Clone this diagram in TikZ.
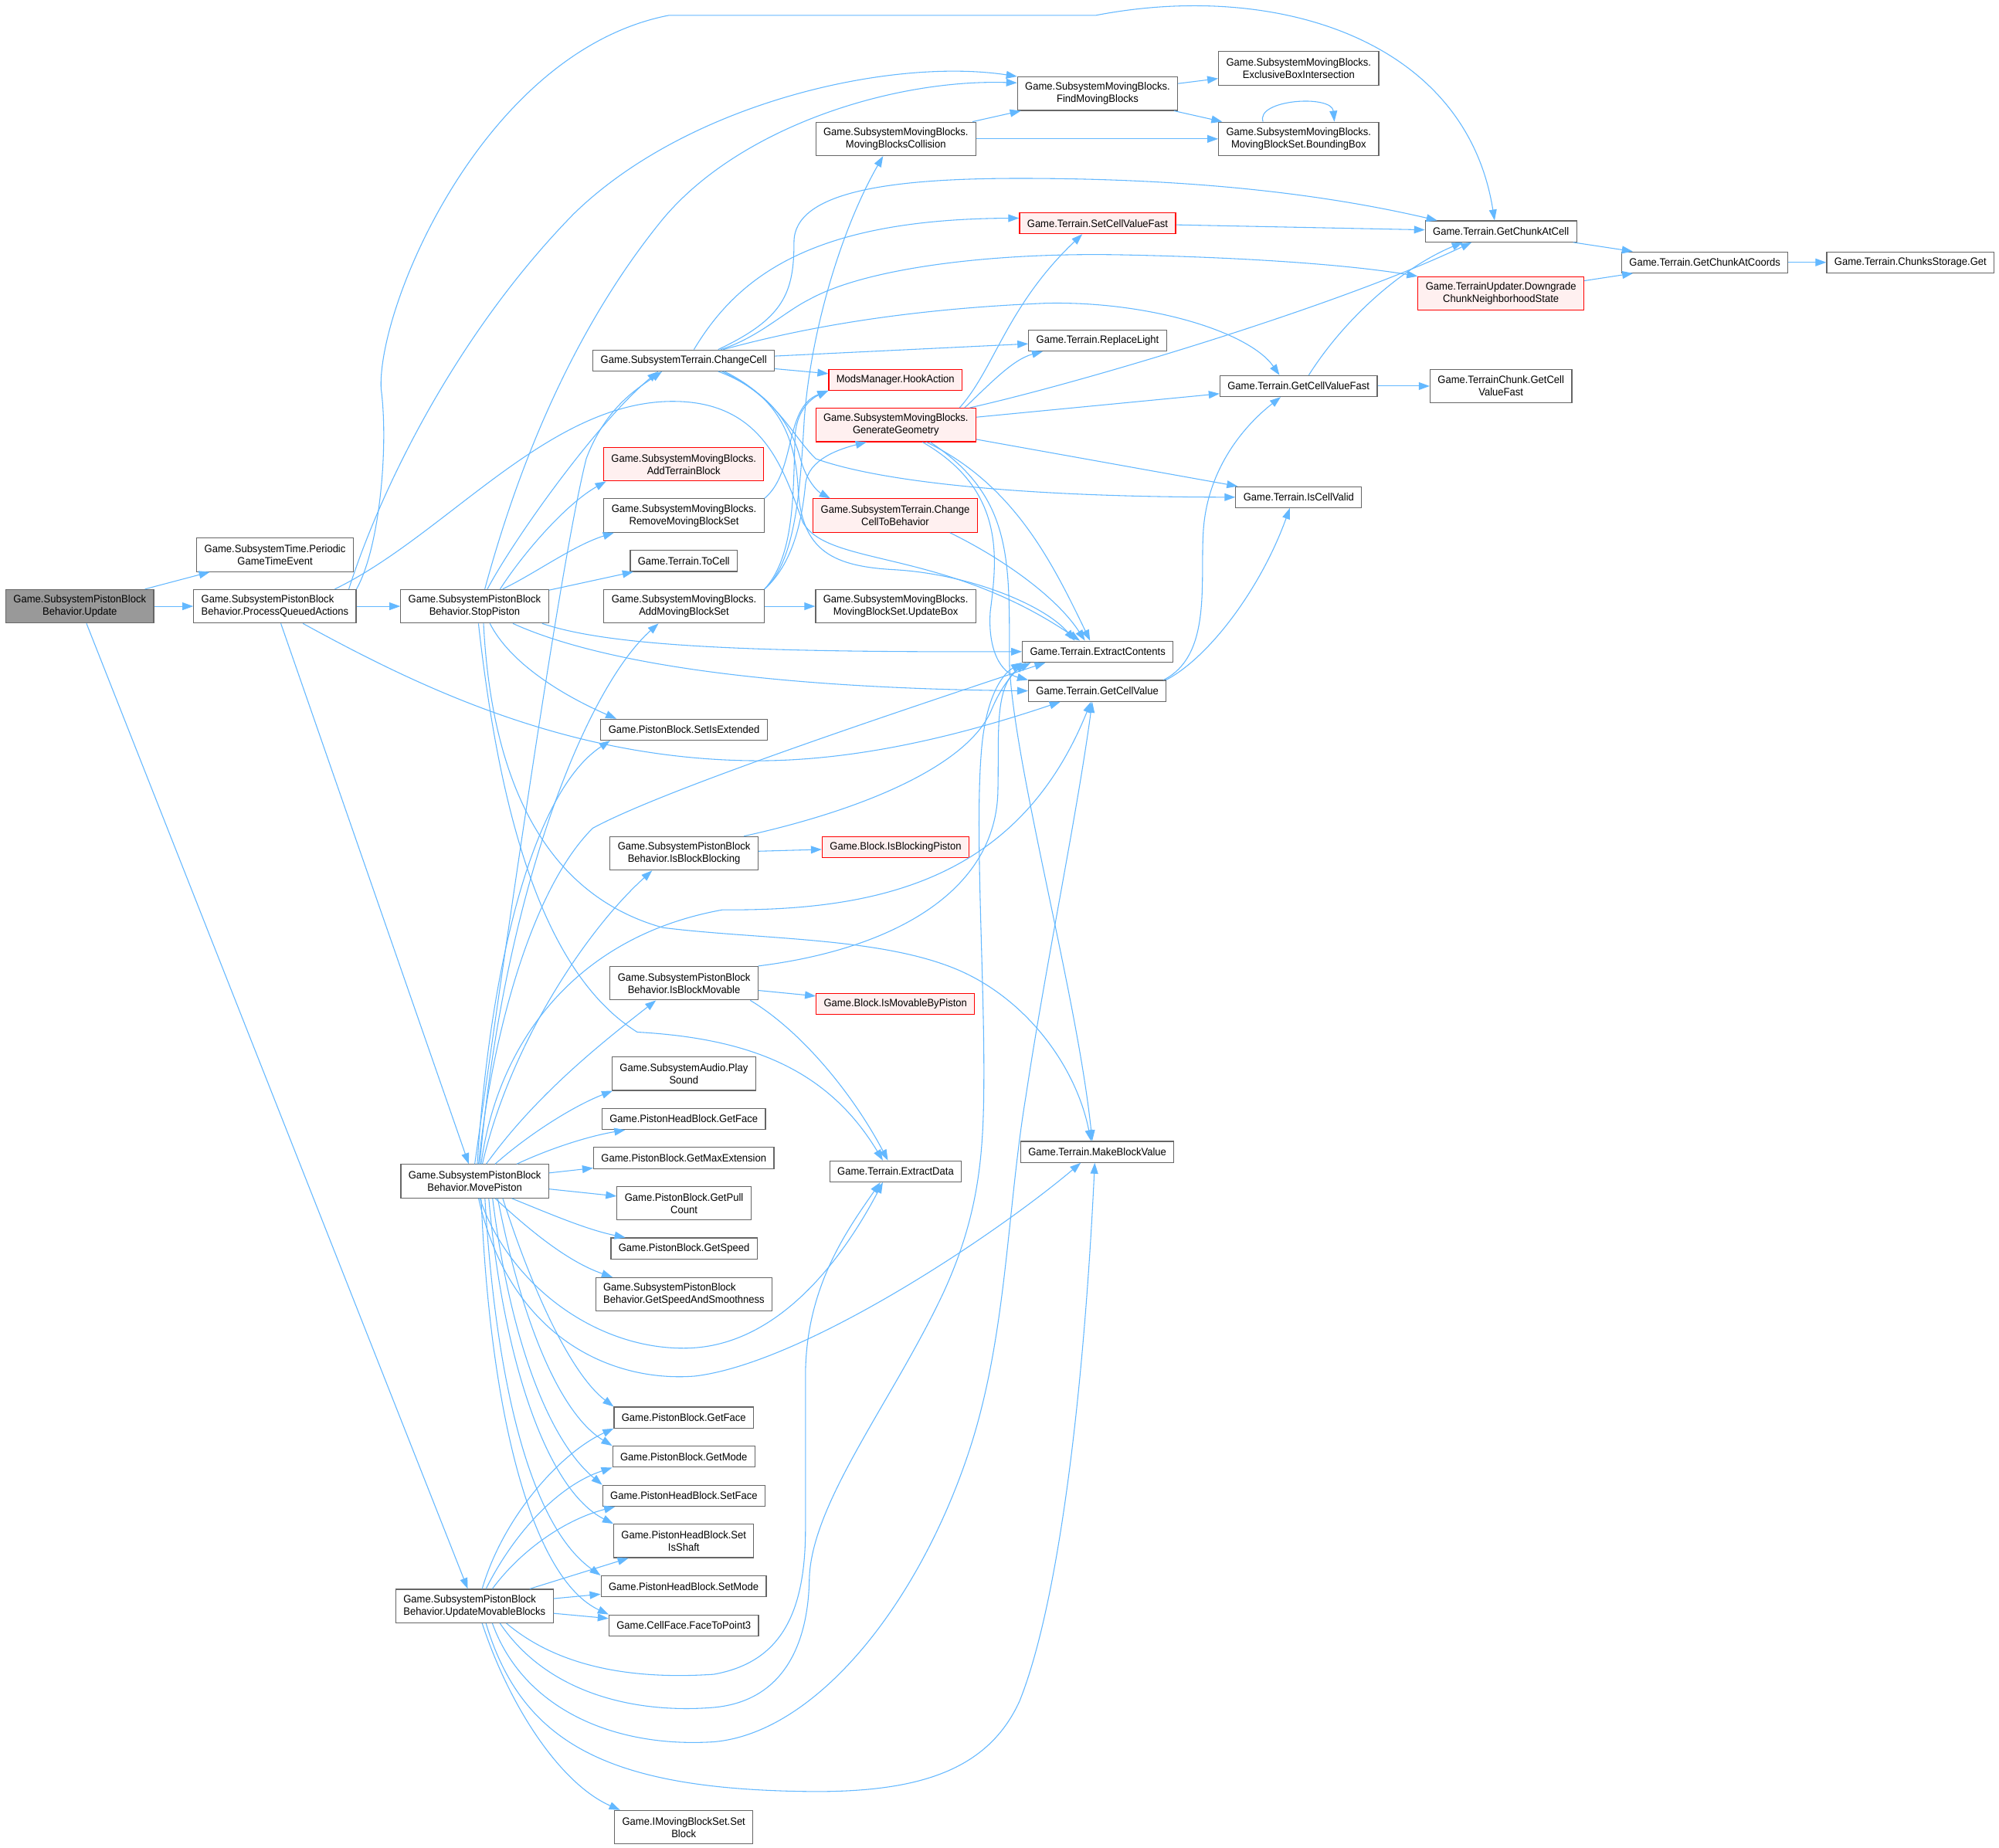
\documentclass[tikz,border=0pt]{standalone}
\usepackage{fontspec}
\setmainfont{Liberation Sans}[FakeStretch=0.94]
\usetikzlibrary{arrows.meta}
\definecolor{edgeblue}{HTML}{63B8FF}
\definecolor{boxgray}{HTML}{666666}
\definecolor{rootgray}{HTML}{999999}
\definecolor{redfill}{HTML}{FFF0F0}

\begin{document}
\begin{tikzpicture}[x=1pt,y=-1pt,
    func/.style={draw=boxgray,fill=white,line width=0.7pt,inner xsep=6pt,inner ysep=0pt,
      minimum height=16.5pt,align=center,font=\fontsize{8.4}{9.7}\selectfont},
    twoline/.style={minimum height=26.3pt},
    funcred/.style={func,draw=red,fill=redfill},
    funcroot/.style={func,fill=rootgray},
    callarrow/.style={color=edgeblue,line width=0.65pt,-{Triangle[length=8.5pt,width=6pt]}}]
        \path[fill=white,use as bounding box] (0,0) rectangle (1568.5,1450.3);
        % Nodi
        \node[funcroot,twoline] (upd) at (62.6,475.8) {Game.SubsystemPistonBlock\\Behavior.Update};
        \node[func,twoline] (periodic) at (215.8,435.4) {Game.SubsystemTime.Periodic\\GameTimeEvent};
        \node[func,twoline,align=left] (procq) at (215.7,475.8) {Game.SubsystemPistonBlock\\Behavior.ProcessQueuedActions};
        \node[func,twoline] (stop) at (372.4,475.8) {Game.SubsystemPistonBlock\\Behavior.StopPiston};
        \node[func,twoline] (move) at (372.5,927) {Game.SubsystemPistonBlock\\Behavior.MovePiston};
        \node[func,twoline,align=left] (updmov) at (372.3,1260.4) {Game.SubsystemPistonBlock\\Behavior.UpdateMovableBlocks};
        \node[func,twoline] (findmov) at (861.2,73.5) {Game.SubsystemMovingBlocks.\\FindMovingBlocks};
        \node[func,twoline] (exclbox) at (1019,53.7) {Game.SubsystemMovingBlocks.\\ExclusiveBoxIntersection};
        \node[func,twoline] (collision) at (702.9,109) {Game.SubsystemMovingBlocks.\\MovingBlocksCollision};
        \node[func,twoline] (bbox) at (1019,109) {Game.SubsystemMovingBlocks.\\MovingBlockSet.BoundingBox};
        \node[funcred] (setfast) at (861.2,175.2) {Game.Terrain.SetCellValueFast};
        \node[func] (chunkcell) at (1177.7,181.6) {Game.Terrain.GetChunkAtCell};
        \node[func] (chunkcoords) at (1337.7,205.9) {Game.Terrain.GetChunkAtCoords};
        \node[func] (storage) at (1499,205.9) {Game.Terrain.ChunksStorage.Get};
        \node[funcred,twoline] (downgrade) at (1177.7,230.3) {Game.TerrainUpdater.Downgrade\\ChunkNeighborhoodState};
        \node[func] (change) at (536.5,282.9) {Game.SubsystemTerrain.ChangeCell};
        \node[func] (light) at (861.2,267.2) {Game.Terrain.ReplaceLight};
        \node[funcred] (hook) at (702.6,298) {ModsManager.HookAction};
        \node[funcred,twoline] (geometry) at (702.9,333.5) {Game.SubsystemMovingBlocks.\\GenerateGeometry};
        \node[func] (getfast) at (1018.9,303) {Game.Terrain.GetCellValueFast};
        \node[func,twoline] (chunkfast) at (1177.7,303) {Game.TerrainChunk.GetCell\\ValueFast};
        \node[func] (valid) at (1019,390.2) {Game.Terrain.IsCellValid};
        \node[funcred,twoline] (addterrain) at (536.5,364.3) {Game.SubsystemMovingBlocks.\\AddTerrainBlock};
        \node[func,twoline] (removeset) at (536.7,404.6) {Game.SubsystemMovingBlocks.\\RemoveMovingBlockSet};
        \node[funcred,twoline] (tobehavior) at (702.4,404.6) {Game.SubsystemTerrain.Change\\CellToBehavior};
        \node[func] (tocell) at (536.5,440.2) {Game.Terrain.ToCell};
        \node[func,twoline] (addset) at (536.7,475.8) {Game.SubsystemMovingBlocks.\\AddMovingBlockSet};
        \node[func,twoline] (updbox) at (702.8,475.8) {Game.SubsystemMovingBlocks.\\MovingBlockSet.UpdateBox};
        \node[func] (contents) at (861.3,511.4) {Game.Terrain.ExtractContents};
        \node[func] (getvalue) at (861,542.2) {Game.Terrain.GetCellValue};
        \node[func] (extended) at (536.7,572.7) {Game.PistonBlock.SetIsExtended};
        \node[func,twoline] (blocking) at (536.7,669.7) {Game.SubsystemPistonBlock\\Behavior.IsBlockBlocking};
        \node[funcred] (blockpiston) at (702.7,665) {Game.Block.IsBlockingPiston};
        \node[func,twoline] (movable) at (536.7,771.6) {Game.SubsystemPistonBlock\\Behavior.IsBlockMovable};
        \node[funcred] (movpiston) at (702.6,787.8) {Game.Block.IsMovableByPiston};
        \node[func,twoline] (sound) at (536.6,842.6) {Game.SubsystemAudio.Play\\Sound};
        \node[func] (headface) at (536.5,878.2) {Game.PistonHeadBlock.GetFace};
        \node[func] (maxext) at (536.5,908.8) {Game.PistonBlock.GetMaxExtension};
        \node[func] (data) at (702.7,919.3) {Game.Terrain.ExtractData};
        \node[func] (makevalue) at (861,904) {Game.Terrain.MakeBlockValue};
        \node[func,twoline] (pull) at (536.7,944.3) {Game.PistonBlock.GetPull\\Count};
        \node[func] (speed) at (536.7,979.8) {Game.PistonBlock.GetSpeed};
        \node[func,twoline,align=left] (smooth) at (536.6,1015.8) {Game.SubsystemPistonBlock\\Behavior.GetSpeedAndSmoothness};
        \node[func] (getface) at (536.5,1112.5) {Game.PistonBlock.GetFace};
        \node[func] (getmode) at (536.5,1143.2) {Game.PistonBlock.GetMode};
        \node[func] (setface) at (536.6,1173.9) {Game.PistonHeadBlock.SetFace};
        \node[func,twoline] (shaft) at (536.5,1209.3) {Game.PistonHeadBlock.Set\\IsShaft};
        \node[func] (setmode) at (536.4,1245) {Game.PistonHeadBlock.SetMode};
        \node[func] (topoint) at (536.5,1275.6) {Game.CellFace.FaceToPoint3};
        \node[func,twoline] (setblock) at (536.5,1434) {Game.IMovingBlockSet.Set\\Block};
        % Archi diritti
        \foreach \a/\b in {upd/periodic,upd/procq,upd/updmov,procq/stop,procq/move,stop/tocell,
            change/light,change/hook,geometry/getfast,geometry/valid,addset/updbox,
            blocking/blockpiston,movable/movpiston,move/maxext,move/pull,updmov/shaft,
            updmov/setmode,updmov/topoint,setfast/chunkcell,chunkcell/chunkcoords,
            downgrade/chunkcoords,chunkcoords/storage,getfast/chunkfast,findmov/exclbox,
            findmov/bbox,collision/findmov,collision/bbox}
          \draw[callarrow] (\a) -- (\b);
        % ProcessQueuedActions
        \draw[callarrow] ([xshift=64]procq.north) .. controls (298,430) and (305,350) .. (299,305) .. controls (296,240) and (380,40) .. (525,12) -- (860,12) .. controls (1000,-15) and (1150,30) .. ([xshift=-5]chunkcell.north);
        \draw[callarrow] ([xshift=58]procq.north) .. controls (300,380) and (360,260) .. (450,168) .. controls (540,80) and (700,45) .. (findmov.north west);
        \draw[callarrow] ([xshift=47]procq.north) .. controls (350,420) and (430,315) .. (528,315) .. controls (600,315) and (615,370) .. (630,410) .. controls (650,445) and (740,430) .. ([xshift=-14]contents.north);
        \draw[callarrow] ([xshift=22]procq.south) .. controls (330,540) and (450,598) .. (600,597) .. controls (680,596) and (760,575) .. ([xshift=-29]getvalue.south);
        % StopPiston
        \draw[callarrow] ([xshift=8]stop.north) .. controls (400,390) and (440,270) .. (520,172) .. controls (580,100) and (700,62) .. ([yshift=-5]findmov.north west);
        \draw[callarrow] ([xshift=10]stop.north) .. controls (405,420) and (470,330) .. ([xshift=-20]change.south);
        \draw[callarrow] ([xshift=20]stop.north) .. controls (412,432) and (445,395) .. ([xshift=-61]addterrain.south);
        \draw[callarrow] ([xshift=22]stop.north) .. controls (420,450) and (450,428) .. ([xshift=-55]removeset.south);
        \draw[callarrow] ([xshift=12]stop.south) .. controls (400,520) and (440,545) .. ([xshift=-53]extended.north);
        \draw[callarrow] ([xshift=53]stop.south) .. controls (480,508) and (600,512) .. (contents.west);
        \draw[callarrow] ([xshift=30]stop.south) .. controls (470,520) and (600,540) .. (getvalue.west);
        \draw[callarrow] ([xshift=3]stop.south) .. controls (390,620) and (420,760) .. (500,810) .. controls (590,815) and (650,840) .. ([xshift=-10]data.north);
        \draw[callarrow] ([xshift=7]stop.south) .. controls (385,600) and (420,700) .. (520,728) .. controls (600,738) and (700,735) .. (760,765) .. controls (810,790) and (845,840) .. ([xshift=-5]makevalue.north);
        % MovePiston
        \draw[callarrow] (move.north) .. controls (400,720) and (440,440) .. (460,360) .. controls (475,320) and (500,305) .. ([xshift=-17]change.south);
        \draw[callarrow] ([xshift=4]move.north) .. controls (395,700) and (460,540) .. ([xshift=-20]addset.south);
        \draw[callarrow] ([xshift=2]move.north) .. controls (385,750) and (420,620) .. ([xshift=-58]extended.south);
        \draw[callarrow] ([xshift=6]move.north) .. controls (400,820) and (460,730) .. ([xshift=-25]blocking.south);
        \draw[callarrow] ([xshift=9]move.north) .. controls (420,860) and (470,820) .. ([xshift=-22]movable.south);
        \draw[callarrow] ([xshift=16]move.north) .. controls (415,890) and (450,868) .. ([xshift=-56]sound.south);
        \draw[callarrow] ([xshift=33]move.north) .. controls (430,902) and (460,892) .. ([xshift=-46]headface.south);
        \draw[callarrow] ([xshift=3]move.north) .. controls (385,820) and (415,700) .. (465,650) .. controls (520,620) and (700,560) .. ([xshift=-41]contents.south);
        \draw[callarrow] ([xshift=5]move.north) .. controls (390,820) and (450,735) .. (567,714) .. controls (690,715) and (800,690) .. ([xshift=-5]getvalue.south);
        \draw[callarrow] ([xshift=29]move.south) .. controls (430,952) and (460,965) .. ([xshift=-46]speed.north);
        \draw[callarrow] ([xshift=16]move.south) .. controls (415,965) and (445,990) .. ([xshift=-56]smooth.north);
        \draw[callarrow] ([xshift=4]move.south) .. controls (400,1010) and (470,1060) .. (540,1058) .. controls (610,1056) and (660,990) .. ([xshift=-10]data.south);
        \draw[callarrow] ([xshift=3]move.south) .. controls (400,1050) and (480,1085) .. (545,1080) .. controls (630,1070) and (780,970) .. ([xshift=-13]makevalue.south);
        \draw[callarrow] ([xshift=22]move.south) .. controls (420,1020) and (450,1080) .. (getface.north west);
        \draw[callarrow] ([xshift=18]move.south) .. controls (410,1040) and (440,1110) .. (getmode.north west);
        \draw[callarrow] ([xshift=14]move.south) .. controls (400,1050) and (430,1130) .. (setface.north west);
        \draw[callarrow] ([xshift=11]move.south) .. controls (395,1070) and (430,1170) .. (shaft.north west);
        \draw[callarrow] ([xshift=8]move.south) .. controls (390,1100) and (420,1200) .. (setmode.north west);
        \draw[callarrow] ([xshift=5]move.south) .. controls (385,1120) and (420,1240) .. (topoint.north west);
        % UpdateMovableBlocks
        \draw[callarrow] ([xshift=6]updmov.north) .. controls (395,1190) and (440,1140) .. (getface.south west);
        \draw[callarrow] ([xshift=9]updmov.north) .. controls (405,1200) and (440,1165) .. (getmode.south west);
        \draw[callarrow] ([xshift=14]updmov.north) .. controls (410,1215) and (445,1192) .. ([xshift=10]setface.south west);
        \draw[callarrow] ([xshift=6]updmov.south) .. controls (400,1340) and (440,1400) .. ([xshift=-50]setblock.north);
        \draw[callarrow] ([xshift=25]updmov.south) .. controls (440,1310) and (500,1318) .. (560,1314) .. controls (610,1305) and (632,1270) .. (632,1200) -- (632,1080) .. controls (632,1010) and (665,965) .. ([xshift=-12]data.south);
        \draw[callarrow] ([xshift=20]updmov.south) .. controls (430,1330) and (500,1345) .. (560,1340) .. controls (615,1335) and (634,1290) .. (635,1240) .. controls (636,1180) and (700,1100) .. (740,1015) .. controls (770,950) and (772,900) .. (772,840) .. controls (772,760) and (765,650) .. (770,590) .. controls (773,550) and (785,530) .. (contents.south west);
        \draw[callarrow] ([xshift=14]updmov.south) .. controls (410,1340) and (480,1372) .. (560,1367) .. controls (640,1360) and (720,1260) .. (760,1140) .. controls (790,1050) and (790,950) .. (805,860) .. controls (820,760) and (845,640) .. ([xshift=-4]getvalue.south);
        \draw[callarrow] ([xshift=9]updmov.south) .. controls (410,1370) and (480,1405) .. (640,1406) .. controls (720,1406) and (775,1390) .. (800,1335) .. controls (830,1260) and (850,1100) .. ([xshift=-2]makevalue.south);
        % ChangeCell
        \draw[callarrow] ([xshift=8]change.north) .. controls (580,215) and (640,172) .. ([yshift=4]setfast.west);
        \draw[callarrow] ([xshift=27]change.north) .. controls (615,250) and (623,230) .. (623,190) .. controls (623,150) and (700,140) .. (800,140) .. controls (950,140) and (1050,155) .. ([xshift=-50]chunkcell.north);
        \draw[callarrow] ([xshift=29]change.north) .. controls (595,265) and (615,245) .. (635,235) .. controls (680,210) and (780,198) .. (880,200) .. controls (980,202) and (1060,208) .. (downgrade.north west);
        \draw[callarrow] ([xshift=31]change.north) .. controls (620,260) and (700,243) .. (820,238) .. controls (900,236) and (980,260) .. ([xshift=-15]getfast.north);
        \draw[callarrow] ([xshift=27]change.south) .. controls (600,305) and (620,330) .. (628,360) .. controls (633,378) and (642,386) .. ([xshift=-51]tobehavior.north);
        \draw[callarrow] ([xshift=30]change.south) .. controls (610,312) and (620,340) .. (640,360) .. controls (690,378) and (800,390) .. (valid.west);
        \draw[callarrow] ([xshift=32]change.south) .. controls (605,310) and (623,335) .. (626,380) .. controls (628,430) and (650,444) .. (700,447) .. controls (760,450) and (820,475) .. ([xshift=-18]contents.north);
        % GenerateGeometry
        \draw[callarrow] ([xshift=50]geometry.north) .. controls (780,290) and (790,240) .. ([xshift=-12]setfast.south);
        \draw[callarrow] ([xshift=54]geometry.north) .. controls (778,300) and (795,282) .. ([xshift=-43]light.south);
        \draw[callarrow] ([xshift=58]geometry.north) .. controls (850,300) and (1050,240) .. ([xshift=-23]chunkcell.south);
        \draw[callarrow] ([xshift=24]geometry.south) .. controls (795,380) and (825,440) .. ([xshift=-6]contents.north);
        \draw[callarrow] ([xshift=21]geometry.south) .. controls (790,385) and (782,440) .. (777,480) .. controls (775,510) and (785,528) .. (getvalue.north west);
        \draw[callarrow] ([xshift=27]geometry.south) .. controls (795,390) and (792,440) .. (792,520) .. controls (795,600) and (845,780) .. ([xshift=-4]makevalue.north);
        % AddMovingBlockSet, RemoveMovingBlockSet
        \draw[callarrow] (addset.north east) .. controls (625,440) and (630,400) .. (632,380) .. controls (634,360) and (660,352) .. ([xshift=-23]geometry.south);
        \draw[callarrow] (addset.north east) .. controls (625,435) and (622,380) .. (624,340) .. controls (626,320) and (638,312) .. (hook.south west);
        \draw[callarrow] (addset.north east) .. controls (625,440) and (628,380) .. (631,330) .. controls (636,260) and (660,180) .. ([xshift=-10]collision.south);
        \draw[callarrow] (removeset.north east) .. controls (625,370) and (615,320) .. (hook.south west);
        % IsBlockBlocking, IsBlockMovable, ChangeCellToBehavior
        \draw[callarrow] ([xshift=47]blocking.north) .. controls (680,635) and (760,600) .. (778,557) .. controls (785,540) and (795,527) .. ([xshift=7]contents.south west);
        \draw[callarrow] (movable.north east) .. controls (700,745) and (782,700) .. (783,620) .. controls (784,575) and (780,540) .. ([xshift=3]contents.south west);
        \draw[callarrow] ([xshift=52]movable.south) .. controls (630,810) and (670,860) .. ([xshift=-6]data.north);
        \draw[callarrow] ([xshift=43]tobehavior.south) .. controls (790,440) and (830,470) .. ([xshift=-10]contents.north);
        % Terrain
        \draw[callarrow] ([xshift=52]getvalue.north) .. controls (950,515) and (942,460) .. (944,420) .. controls (946,370) and (975,335) .. ([xshift=-14]getfast.south);
        \draw[callarrow] ([xshift=54]getvalue.north) .. controls (950,515) and (990,460) .. ([xshift=-7]valid.south);
        \draw[callarrow] ([xshift=8]getfast.north) .. controls (1055,250) and (1100,210) .. ([xshift=-30]chunkcell.south);
        \draw[callarrow] ([xshift=-28]bbox.north) .. controls (985,78) and (1045,74) .. ([xshift=28]bbox.north);
    \end{tikzpicture}
\end{document}
